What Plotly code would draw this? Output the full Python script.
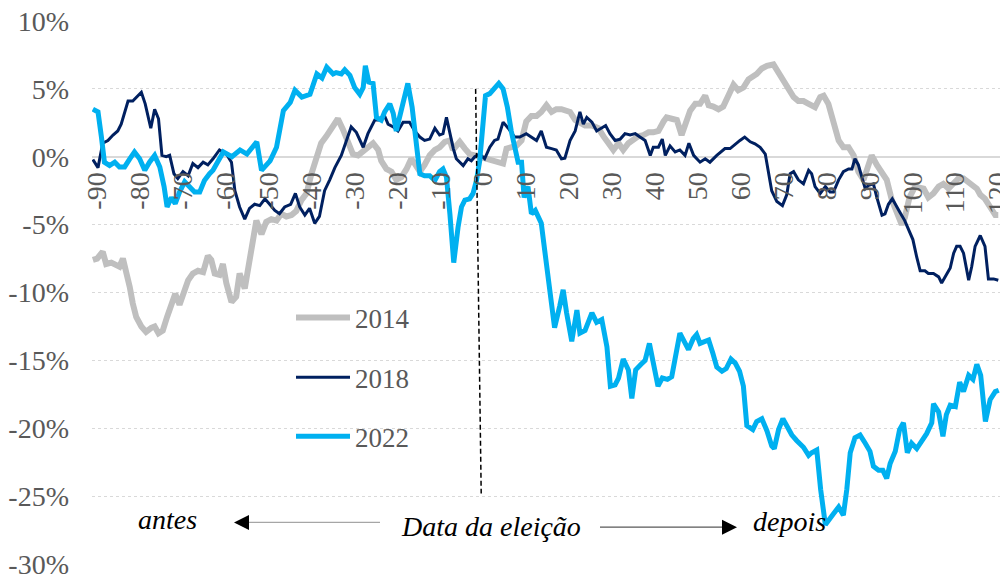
import plotly.graph_objects as go

# ---------------- data (days relative to election, % change) ----------------
days_2014 = [-91, -90, -88.7, -87.9, -86.7, -85.5, -84.8, -84.0, -83.2, -82.4, -81.7, -80.9, -79.7, -78.6,
             -77.4, -76.6, -75.7, -74.7, -73.7, -72.7, -71.8, -70.8, -69.6, -68.8, -67.7, -66.5, -65.3,
             -64.2, -63.4, -62.6, -61.5, -60.7, -59.9, -58.7, -57.6, -56.8, -55.6, -54.8, -54.1, -52.9,
             -51.7, -50.6, -49.4, -48.2, -47.1, -45.9, -44.7, -43.6, -42.4, -41.2, -40.1, -38.9, -37.8,
             -36.6, -35.0, -33.9, -32.7, -31.5, -30.4, -29.2, -28.0, -26.9, -25.7, -24.5, -23.8, -22.6,
             -21.4, -20.3, -19.1, -17.9, -16.8, -15.8, -14.8, -13.7, -12.5, -11.3, -10.2, -9.0, -7.8,
             -7.1, -5.5, -4.3, -3.2, -2.0, -0.9, 0.3, 1.5, 2.6, 3.8, 4.6, 5.4, 6.5, 7.7, 8.9, 10.0, 11.2,
             12.4, 13.5, 14.7, 15.9, 17.0, 18.2, 19.4, 20.2, 21.4, 23.7, 25.3, 26.8, 28.0, 29.1, 30.3,
             31.5, 32.6, 33.8, 35.0, 36.1, 37.3, 38.5, 39.6, 40.8, 42.0, 42.7, 43.9, 45.1, 46.2, 47.4,
             48.2, 49.4, 50.5, 51.7, 52.5, 53.6, 54.8, 55.9, 57.1, 58.3, 59.4, 60.6, 61.8, 62.9, 63.7,
             64.9, 66.1, 67.6, 68.8, 69.9, 71.1, 72.3, 73.4, 74.6, 75.8, 76.5, 77.3, 78.5, 79.3, 80.4,
             81.2, 82.0, 82.8, 83.9, 85.1, 86.3, 87.4, 88.6, 89.8, 90.5, 91.7, 92.9, 94.0, 95.2, 96.4,
             97.5, 98.2, 99.3, 100.6, 101.8, 102.6, 103.7, 104.9, 106.1, 107.2, 108.4, 109.6, 110.7,
             111.9, 113.1, 114.2, 115.0, 115.8, 116.9, 118.1, 119.3, 120.0]
vals_2014 = [-7.6, -7.5, -7.0, -7.9, -7.8, -8.0, -8.1, -7.5, -8.4, -9.6, -10.8, -11.8, -12.5, -12.9,
             -12.6, -12.5, -13.0, -12.8, -11.8, -10.8, -10.1, -10.9, -9.7, -9.1, -8.6, -8.4, -8.5,
             -7.3, -7.6, -8.6, -8.7, -7.9, -9.3, -10.7, -10.3, -8.6, -9.7, -8.1, -6.4, -4.7,
             -5.7, -4.8, -4.6, -4.7, -4.2, -4.4, -4.3, -4.0, -3.2, -2.7, -1.3, 0.0, 1.0,
             1.5, 2.3, 2.8, 2.0, 1.0, 0.2, 0.1, 0.4, 0.7, 1.0, 0.5, -0.3, -0.9,
             -1.1, -1.7, -1.5, -0.9, -0.15, -0.6, -1.1, -0.6, 0.1, 0.5, 0.7, 1.1, 1.2,
             0.5, 1.1, 0.6, 0.2, 0.1, 0.0, -0.15, -0.3, -0.3, -0.4, -0.5, 0.6, 0.7, 0.8, 1.2, 2.6, 3.0,
             3.0, 3.3, 3.8, 3.3, 3.5, 3.5, 3.4, 3.3, 2.7, 2.3, 2.3, 2.1, 1.5, 1.0, 0.5,
             1.0, 0.5, 1.0, 1.3, 1.5, 1.6, 1.8, 1.8, 1.9, 2.6, 2.9, 2.8, 2.7, 1.6, 2.7,
             3.4, 3.9, 3.9, 4.5, 3.8, 3.7, 3.5, 3.7, 4.5, 5.3, 4.9, 5.1, 5.7, 5.9, 6.1,
             6.5, 6.7, 6.8, 6.2, 5.5, 4.9, 4.4, 4.1, 4.1, 3.9, 3.8, 3.65, 4.4, 4.5, 3.9,
             2.9, 1.9, 1.2, 0.7, 0.7, 0.1, -1.1, -1.7, -0.6, 0.1, -0.6, -1.25, -1.7, -3.2, -4.3,
             -5.0, -4.5, -3.0, -2.2, -2.35, -2.35, -3.0, -2.7, -2.2, -2.0, -2.35, -1.9, -1.6,
             -1.6, -1.9, -2.2, -2.35, -2.8, -3.1, -3.7, -4.3, -4.3]

days_2018 = [-91, -89.8, -88.7, -87.5, -86.3, -85.2, -84.4, -83.6, -82.8, -81.7, -80.5, -79.7, -78.8,
             -77.5, -76.6, -75.7, -74.9, -73.9, -73.1, -72.1, -71.2, -70.0, -68.8, -67.7, -66.5, -65.3,
             -64.2, -63.0, -61.5, -59.9, -58.7, -57.9, -56.8, -55.6, -54.5, -53.3, -52.1, -50.9, -49.8,
             -48.6, -47.5, -46.3, -44.9, -43.8, -42.8, -41.6, -40.5, -39.3, -38.2, -37.0, -35.8, -34.6,
             -33.1, -31.9, -30.8, -29.6, -28.0, -26.9, -25.3, -24.2, -23.0, -22.2, -21.0, -19.9, -18.7,
             -17.2, -16.0, -14.8, -13.7, -12.5, -11.3, -10.2, -9.4, -8.6, -7.6, -7.0, -6.3, -4.7, -3.6,
             -2.8, -2.0, -0.85, 0.3, 1.5, 2.6, 3.4, 4.6, 5.8, 7.3, 8.5, 10.0, 11.2, 12.4, 13.5, 14.7,
             15.9, 17.0, 18.2, 19.0, 20.2, 21.4, 22.5, 23.3, 24.1, 25.3, 26.4, 27.6, 28.5, 29.5, 30.7,
             31.9, 33.0, 34.2, 35.4, 36.5, 37.7, 38.9, 39.6, 40.8, 41.7, 42.4, 43.5, 44.7, 45.8, 47.0,
             47.9, 49.0, 50.5, 51.7, 52.8, 54.4, 56.3, 57.5, 58.7, 59.8, 60.9, 62.2, 63.3, 64.5, 65.7,
             66.4, 67.2, 68.4, 69.7, 70.7, 71.5, 72.3, 73.4, 74.6, 75.8, 76.5, 77.3, 78.5, 79.7, 80.8,
             81.6, 82.8, 83.9, 85.1, 85.9, 86.6, 87.4, 88.2, 89.0, 89.8, 90.9, 91.7, 92.9, 93.6, 94.4,
             95.3, 96.1, 97.1, 98.2, 99.3, 100.1, 101.0, 101.8, 102.9, 103.7, 104.9, 106.1, 106.8,
             108.0, 108.8, 109.6, 110.3, 111.1, 111.9, 113.1, 113.8, 114.6, 115.8, 116.9, 117.7,
             118.9, 120.0]
vals_2018 = [-0.2, -0.8, 1.0, 1.2, 1.6, 1.9, 2.4, 3.3, 4.1, 4.1, 4.5, 4.75, 3.9,
             2.1, 3.5, 2.8, 0.1, 0.0, 0.1, -1.25, -1.6, -1.1, -1.4, -0.5, -0.8, -0.4,
             -0.6, -0.15, 0.5, 0.2, -0.4, -2.5, -3.7, -4.6, -3.8, -3.5, -3.6, -3.1, -3.5,
             -3.95, -4.2, -3.7, -3.5, -2.7, -3.7, -4.3, -3.8, -4.9, -4.4, -2.5, -1.7, -0.8,
             0.1, 1.2, 2.2, 1.8, 0.7, 1.7, 2.7, 2.7, 3.0, 2.4, 2.2, 1.9, 2.55,
             2.55, 1.9, 1.45, 1.2, 1.3, 2.1, 1.6, 1.7, 2.9, 1.4, 0.6, -0.15, -0.65, -0.15,
             -0.3, 0.0, 0.2, -0.15, 0.7, 1.2, 1.3, 2.55, 2.1, 1.45, 1.45, 1.7, 1.45, 1.2, 1.9, 0.7,
             0.6, 0.5, -0.15, -0.1, 1.2, 1.9, 3.3, 2.4, 2.9, 2.55, 1.9, 2.1, 2.3, 1.7, 1.2,
             1.3, 1.7, 1.6, 1.7, 1.45, 1.2, 0.1, 0.7, 0.7, 1.3, 0.1, 0.8, 0.35, 0.5, 0.1,
             1.0, 0.1, -0.4, -0.15, -0.4, 0.1, 0.6, 0.6, 0.95, 1.2, 1.45, 1.1, 0.95, 0.7, 0.2,
             -1.0, -2.5, -3.3, -3.6, -2.8, -1.25, -1.1, -1.7, -2.0, -1.0, -1.25, -2.2, -2.7, -2.2, -2.6,
             -2.6, -1.7, -1.1, -0.9, -0.9, -0.15, -0.6, -1.5, -2.35, -2.1, -2.0, -3.0, -4.3, -4.2, -3.5,
             -3.1, -3.5, -4.1, -4.7, -5.5, -6.1, -7.4, -8.4, -8.4, -8.6, -8.6, -8.85, -9.3,
             -8.7, -8.2, -7.1, -6.6, -6.6, -7.1, -9.1, -8.1, -6.6, -5.8, -6.6, -9.0,
             -9.0, -9.1]

days_2022 = [-91, -89.8, -89.0, -88.3, -87.1, -85.9, -84.8, -83.6, -82.4, -81.3, -80.1, -78.9, -77.8,
             -76.6, -75.4, -74.4, -73.7, -72.7, -71.8, -70.8, -69.6, -68.5, -67.3, -66.1, -65.0, -63.8,
             -63.0, -60.6, -58.6, -56.7, -55.1, -52.8, -51.7, -49.7, -48.2, -46.6, -45.0, -43.9, -42.3,
             -40.4, -38.8, -37.6, -36.5, -35.0, -34.3, -33.1, -32.3, -31.1, -30.0, -28.8, -28.0, -27.5,
             -26.7, -25.7, -24.9, -23.8, -23.0, -21.8, -21.0, -20.3, -19.5, -18.7, -17.6, -16.6, -15.6,
             -14.8, -13.7, -12.5, -11.3, -10.2, -9.4, -8.6, -7.8, -6.9, -5.9, -5.1, -4.3, -3.2, -2.4,
             -1.6, -0.85, 0.0, 0.5, 1.5, 2.6, 3.6, 4.6, 5.6, 6.5, 7.3, 8.1, 8.9, 9.5, 10.4, 11.2, 12.1,
             12.8, 13.5, 14.3, 15.1, 15.9, 16.6, 17.8, 18.6, 19.4, 20.6, 21.8, 22.5, 23.7, 25.3, 26.4,
             27.6, 28.8, 29.6, 30.7, 31.5, 32.6, 33.8, 34.6, 35.5, 36.7, 37.7, 38.7, 39.6, 40.7, 41.7,
             42.9, 43.9, 44.7, 45.8, 46.8, 47.8, 48.9, 49.7, 50.5, 51.4, 52.5, 53.5, 54.4, 55.6, 56.6,
             57.7, 58.7, 59.7, 60.6, 61.4, 62.8, 63.7, 64.9, 66.1, 67.2, 67.8, 68.8, 69.8, 70.7, 71.9,
             73.0, 74.6, 75.8, 76.5, 77.7, 78.6, 79.7, 80.7, 81.6, 82.8, 83.9, 84.7, 85.5, 86.6, 87.8,
             89.0, 90.1, 90.9, 92.1, 93.1, 94.0, 94.8, 96.0, 97.0, 97.9, 98.8, 99.8, 101.0, 102.2,
             103.3, 104.5, 104.9, 106.1, 107.1, 107.9, 108.8, 110.0, 111.0, 111.9, 113.1, 114.1,
             115.0, 115.9, 117.0, 118.1, 119.3, 120.1]
vals_2022 = [3.5, 3.3, 1.45, -0.4, -0.65, -0.4, -0.75, -0.75, -0.15, 0.35, -0.15, -1.0, -0.4,
             0.1, -0.75, -2.2, -3.7, -3.0, -3.45, -2.6, -1.85, -2.2, -2.6, -2.6, -1.75, -1.25,
             -1.0, 0.35, 0.0, 0.5, 0.2, 1.1, -1.0, -0.3, 0.7, 3.4, 4.0, 4.9, 4.4,
             4.6, 6.1, 5.8, 6.6, 6.1, 6.2, 6.1, 6.4, 6.0, 5.1, 4.6, 5.1, 6.7,
             5.5, 5.4, 2.9, 2.7, 3.3, 3.9, 3.2, 1.9, 2.9, 3.65, 5.4, 3.65, 1.2,
             -1.25, -1.4, -1.4, -1.75, -1.1, -0.9, -1.5, -4.2, -7.8, -5.2, -3.7, -3.2, -3.1, -2.7,
             -1.75, -0.3, 2.2, 4.5, 4.65, 5.0, 5.4, 5.0, 3.65, 1.9, 0.5, -0.4, -0.4, -3.0, -2.2, -4.2, -3.95,
             -4.55, -4.9, -6.9, -8.9, -10.3, -12.6, -11.0, -9.8, -11.5, -13.6, -11.3, -13.0, -12.8, -11.5, -12.2,
             -12.0, -14.0, -16.9, -16.8, -16.3, -14.9, -15.7, -17.8, -15.7, -15.3, -15.0, -13.75, -15.2, -16.9, -16.3,
             -16.4, -16.2, -15.0, -13.0, -13.6, -14.2, -13.4, -13.1, -13.75, -13.6, -13.5, -14.5, -15.5, -15.8, -15.6,
             -14.9, -15.2, -15.8, -16.9, -19.8, -20.1, -19.5, -19.3, -20.2, -21.3, -21.5, -20.1, -19.3, -19.8, -20.5,
             -20.9, -21.4, -22.0, -21.8, -21.6, -24.5, -27.1, -26.6, -26.3, -25.8, -26.4, -24.5, -21.8, -20.7, -20.5,
             -21.1, -21.7, -22.8, -23.1, -23.1, -23.7, -22.6, -21.7, -20.1, -19.6, -21.8, -21.1, -21.5, -20.9,
             -20.4, -19.6, -18.2, -18.8, -20.6, -19.0, -18.3, -18.4, -16.6, -17.3, -16.1, -16.4,
             -15.3, -16.1, -19.5, -17.9, -17.3, -17.2]

series_names = ["2014", "2018", "2022"]
x_ticks = list(range(-90, 121, 10))
x_tick_labels = [str(v) for v in x_ticks]
y_ticks = list(range(-30, 11, 5))
y_tick_labels = [f"{v}%" for v in y_ticks]

# ---------------- styling ----------------
FONT = "Liberation Serif"
GRAY_TXT = "#595959"
colors = ["#BFBFBF", "#002060", "#00B0F0"]
widths = [6, 3, 5]

fig = go.Figure()
all_days = [days_2014, days_2018, days_2022]
all_vals = [vals_2014, vals_2018, vals_2022]
legend_ids = ["legend", "legend2", "legend3"]
for name, d, v, c, w, lg in zip(series_names, all_days, all_vals, colors, widths, legend_ids):
    fig.add_trace(go.Scatter(x=d, y=v, mode="lines", name=name,
                             line=dict(color=c, width=w), legend=lg,
                             hovertemplate="%{x}: %{y:.1f}%<extra>" + name + "</extra>"))

H = 543.3  # plot height px
def py(p):
    return (564.3 - p) / H
def px(p):
    return (p - 92) / 908

leg_common = dict(font=dict(family=FONT, size=27, color=GRAY_TXT), bgcolor="rgba(0,0,0,0)",
                  itemwidth=54, xanchor="left", yanchor="middle", borderwidth=0)
fig.update_layout(
    legend=dict(x=px(291), y=py(318), **leg_common),
    legend2=dict(x=px(291), y=py(378), **leg_common),
    legend3=dict(x=px(291), y=py(437), **leg_common),
)

fig.update_layout(
    width=1000, height=576,
    margin=dict(l=92, r=0, t=21, b=12, autoexpand=False),
    paper_bgcolor="white", plot_bgcolor="white",
    font=dict(family=FONT, color=GRAY_TXT),
    xaxis=dict(range=[-91.2, 120.4], anchor="free", position=0.75, side="bottom",
               tickmode="array", tickvals=x_ticks, ticktext=x_tick_labels, tickangle=-90,
               tickfont=dict(family=FONT, size=28, color=GRAY_TXT), ticks="",
               ticklabelstandoff=9, ticklabeloverflow="allow", automargin=False,
               showgrid=False, zeroline=False, showline=False),
    yaxis=dict(range=[-30, 10], tickmode="array", tickvals=y_ticks, ticktext=y_tick_labels,
               tickfont=dict(family=FONT, size=28, color=GRAY_TXT), ticks="",
               ticklabelstandoff=22, ticklabeloverflow="allow", automargin=False,
               showgrid=True, gridcolor="#D9D9D9", griddash="dot", gridwidth=1,
               zeroline=True, zerolinecolor="#D9D9D9", zerolinewidth=2, showline=False),
    showlegend=True,
)

# election-date dashed line
fig.add_shape(type="line", xref="x", yref="y", x0=-1.8, y0=5.0, x1=-0.5, y1=-24.8,
              line=dict(color="black", width=1.5, dash="5px,3px"))

# arrows (gray shafts + black heads)
fig.add_shape(type="line", xref="paper", yref="paper", x0=px(380), x1=px(246), y0=py(522.7), y1=py(522.7),
              line=dict(color="#A6A6A6", width=1.3))
fig.add_shape(type="line", xref="paper", yref="paper", x0=px(600), x1=px(724), y0=py(527.5), y1=py(527.5),
              line=dict(color="#595959", width=1.3))
fig.add_annotation(xref="paper", yref="paper", x=px(234), y=py(522.7), ax=16, ay=0, text="",
                   showarrow=True, arrowhead=2, arrowsize=2, arrowwidth=1.5, arrowcolor="black")
fig.add_annotation(xref="paper", yref="paper", x=px(737), y=py(527.5), ax=-16, ay=0, text="",
                   showarrow=True, arrowhead=2, arrowsize=2, arrowwidth=1.5, arrowcolor="black")

ann_font = dict(family=FONT, size=28, color="black", style="italic")
fig.add_annotation(xref="paper", yref="paper", x=px(167), y=py(520), text="antes", showarrow=False,
                   font=ann_font, xanchor="center", yanchor="middle")
fig.add_annotation(xref="paper", yref="paper", x=px(491), y=py(527), text="Data da eleição", showarrow=False,
                   font=ann_font, xanchor="center", yanchor="middle")
fig.add_annotation(xref="paper", yref="paper", x=px(789), y=py(522), text="depois", showarrow=False,
                   font=ann_font, xanchor="center", yanchor="middle")

fig.write_html("out.html", config={"displayModeBar": False},
               post_script="document.body.style.margin='0';document.body.style.overflow='hidden';")
